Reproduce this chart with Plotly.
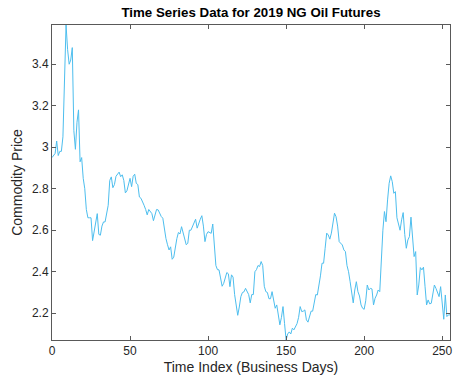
import plotly.graph_objects as go

# Daily settlement prices, 2019 NG futures (index = business day)
time_index = list(range(256))
prices = [
    2.95, 2.96, 2.97, 3.03, 2.96, 2.98, 2.98, 3.05, 3.32, 3.589,
    3.47, 3.40, 3.42, 3.48, 3.08, 2.99, 3.12, 3.18, 2.93, 2.95,
    2.85, 2.80, 2.70, 2.66, 2.66, 2.66, 2.55, 2.60, 2.64, 2.68,
    2.58, 2.576, 2.62, 2.64, 2.64, 2.69, 2.72, 2.84, 2.857, 2.805,
    2.82, 2.86, 2.87, 2.88, 2.858, 2.867, 2.84, 2.78, 2.79, 2.82,
    2.85, 2.81, 2.86, 2.87, 2.826, 2.82, 2.76, 2.754, 2.74, 2.72,
    2.70, 2.674, 2.70, 2.69, 2.68, 2.646, 2.68, 2.70, 2.698, 2.68,
    2.666, 2.658, 2.60, 2.56, 2.53, 2.505, 2.52, 2.46, 2.47, 2.52,
    2.56, 2.589, 2.582, 2.617, 2.59, 2.56, 2.53, 2.537, 2.60, 2.60,
    2.62, 2.634, 2.653, 2.61, 2.634, 2.653, 2.67, 2.62, 2.545, 2.58,
    2.593, 2.59, 2.585, 2.63, 2.52, 2.43, 2.41, 2.409, 2.37, 2.33,
    2.344, 2.37, 2.396, 2.39, 2.328, 2.385, 2.374, 2.29, 2.24, 2.19,
    2.23, 2.28, 2.30, 2.303, 2.32, 2.30, 2.29, 2.25, 2.29, 2.29,
    2.40, 2.41, 2.43, 2.425, 2.449, 2.43, 2.33, 2.304, 2.30, 2.27,
    2.27, 2.304, 2.26, 2.224, 2.24, 2.192, 2.144, 2.18, 2.232, 2.15,
    2.071, 2.10, 2.11, 2.10, 2.128, 2.12, 2.135, 2.15, 2.18, 2.232,
    2.208, 2.21, 2.216, 2.168, 2.157, 2.18, 2.21, 2.21, 2.26, 2.29,
    2.288, 2.33, 2.38, 2.441, 2.441, 2.513, 2.586, 2.577, 2.557, 2.586,
    2.63, 2.682, 2.665, 2.62, 2.545, 2.537, 2.529, 2.505, 2.497, 2.43,
    2.40, 2.352, 2.296, 2.25, 2.312, 2.352, 2.304, 2.283, 2.24, 2.224,
    2.219, 2.26, 2.336, 2.312, 2.32, 2.317, 2.24, 2.272, 2.288, 2.312,
    2.304, 2.473, 2.60, 2.69, 2.641, 2.746, 2.826, 2.862, 2.834, 2.778,
    2.786, 2.66, 2.626, 2.60, 2.65, 2.685, 2.58, 2.513, 2.553, 2.569,
    2.663, 2.553, 2.473, 2.497, 2.288, 2.336, 2.42, 2.409, 2.422, 2.33,
    2.24, 2.264, 2.245, 2.248, 2.296, 2.336, 2.32, 2.30, 2.28, 2.328,
    2.232, 2.171, 2.288, 2.184, 2.192, 2.192,
]

x_ticks = [0, 50, 100, 150, 200, 250]
y_ticks = [2.2, 2.4, 2.6, 2.8, 3.0, 3.2, 3.4]
y_tick_text = ["2.2", "2.4", "2.6", "2.8", "3", "3.2", "3.4"]

axis_color = "#595959"
font_family = "Liberation Sans, Arial, sans-serif"

fig = go.Figure()
fig.add_trace(go.Scatter(
    x=time_index, y=prices, mode="lines",
    line=dict(color="#4DBEEE", width=1),
    showlegend=False, hoverinfo="skip",
))

axis_common = dict(
    showgrid=False, zeroline=False, showline=True, mirror="ticks",
    linecolor=axis_color, linewidth=1, ticks="inside", ticklen=4,
    tickcolor=axis_color, tickwidth=1, ticklabeloverflow="allow",
    tickfont=dict(family=font_family, size=12, color="#262626"),
)

fig.update_layout(
    width=454, height=385,
    margin=dict(l=52, r=2, t=25, b=45),
    paper_bgcolor="white", plot_bgcolor="white",
    title=dict(
        text="<b>Time Series Data for 2019 NG Oil Futures</b>",
        x=0.5, xref="paper", xanchor="center",
        y=1 - 12 / 385, yref="container", yanchor="middle",
        font=dict(family=font_family, size=13.3, color="black"),
    ),
    xaxis=dict(
        range=[0, 255], tickvals=x_ticks,
        title=dict(text="Time Index (Business Days)", standoff=4,
                   font=dict(family=font_family, size=14, color="#262626")),
        **axis_common,
    ),
    yaxis=dict(
        range=[min(prices), max(prices)], tickvals=y_ticks, ticktext=y_tick_text,
        title=dict(text="Commodity Price", standoff=6,
                   font=dict(family=font_family, size=14, color="#262626")),
        **axis_common,
    ),
)

fig.write_html("out.html")
